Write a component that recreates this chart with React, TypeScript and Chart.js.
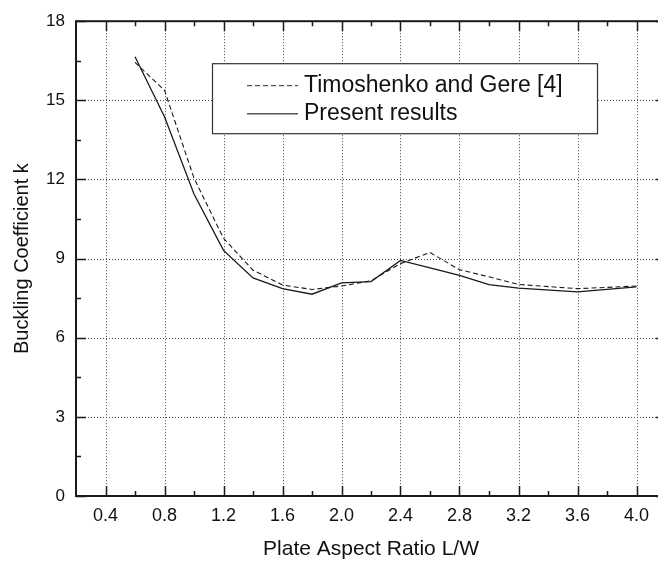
import React, { useEffect, useRef } from 'react';
import { Chart, registerables } from 'chart.js';

Chart.register(...registerables);

// ---- data ----
const X_VALUES = [0.6, 0.8, 1.0, 1.2, 1.4, 1.6, 1.8, 2.0, 2.2, 2.4, 2.6, 2.8, 3.0, 3.2, 3.6, 4.0];
const TIMOSHENKO = [16.44, 15.38, 12.05, 9.77, 8.56, 8.0, 7.83, 7.96, 8.16, 8.81, 9.23, 8.58, 8.31, 8.02, 7.86, 7.96];
const PRESENT = [16.65, 14.38, 11.45, 9.31, 8.27, 7.86, 7.65, 8.08, 8.13, 8.93, 8.65, 8.36, 8.01, 7.88, 7.74, 7.93];

const SERIES_LABELS = ['Timoshenko and Gere [4]', 'Present results'];
const X_TICKS = [0.4, 0.8, 1.2, 1.6, 2.0, 2.4, 2.8, 3.2, 3.6, 4.0];
const X_MINOR = [0.6, 1.0, 1.4, 1.8, 2.2, 2.6, 3.0, 3.4, 3.8];
const Y_TICKS = [0, 3, 6, 9, 12, 15, 18];
const Y_MINOR = [1.5, 4.5, 7.5, 10.5, 13.5, 16.5];
const X_TITLE = 'Plate Aspect Ratio L/W';
const Y_TITLE = 'Buckling Coefficient k';

const FONT = '"Liberation Sans", Arial, Helvetica, sans-serif';
const INK = '#1a1a1a';

const framePlugin = {
  id: 'frame',
  beforeDatasetsDraw(chart: any) {
    const { ctx, chartArea: a, scales } = chart;
    const xs = scales.x, ys = scales.y;
    ctx.save();
    ctx.strokeStyle = '#444';
    ctx.lineWidth = 1;
    ctx.setLineDash([1, 2]);
    for (const v of X_TICKS) {
      const px = Math.round(xs.getPixelForValue(v)) + 0.5;
      ctx.beginPath();
      ctx.moveTo(px, a.top);
      ctx.lineTo(px, a.bottom);
      ctx.stroke();
    }
    for (const v of Y_TICKS) {
      const py = Math.round(ys.getPixelForValue(v)) + 0.5;
      ctx.beginPath();
      ctx.moveTo(a.left, py);
      ctx.lineTo(a.right, py);
      ctx.stroke();
    }
    ctx.restore();
  },
  afterDatasetsDraw(chart: any) {
    const { ctx, chartArea: a, scales } = chart;
    const xs = scales.x, ys = scales.y;
    ctx.save();
    ctx.setLineDash([]);
    ctx.strokeStyle = INK;
    ctx.lineWidth = 1.5;
    const xTick = (v: number, len: number) => {
      const px = Math.round(xs.getPixelForValue(v)) + 0.5;
      ctx.beginPath();
      ctx.moveTo(px, a.bottom);
      ctx.lineTo(px, a.bottom - len);
      ctx.moveTo(px, a.top);
      ctx.lineTo(px, a.top + len);
      ctx.stroke();
    };
    const yTick = (v: number, len: number) => {
      const py = Math.round(ys.getPixelForValue(v)) + 0.5;
      ctx.beginPath();
      ctx.moveTo(a.left, py);
      ctx.lineTo(a.left + len, py);
      ctx.moveTo(a.right, py);
      ctx.lineTo(a.right - len, py);
      ctx.stroke();
    };
    X_TICKS.forEach((v) => xTick(v, 10));
    X_MINOR.forEach((v) => xTick(v, 5));
    Y_TICKS.forEach((v) => yTick(v, 10));
    Y_MINOR.forEach((v) => yTick(v, 5));
    ctx.lineWidth = 2;
    ctx.strokeRect(a.left, a.top, a.right - a.left, a.bottom - a.top);

    // legend box
    const bx = a.left + 136, by = a.top + 42, bw = 385, bh = 70;
    ctx.fillStyle = '#fff';
    ctx.fillRect(bx, by, bw, bh);
    ctx.lineWidth = 1.2;
    ctx.strokeStyle = '#333';
    ctx.strokeRect(bx + 0.5, by + 0.5, bw, bh);
    const rows = [by + 22, by + 50];
    const dashes = [[5, 3], []];
    chart.data.datasets.forEach((ds: any, i: number) => {
      ctx.beginPath();
      ctx.setLineDash(dashes[i]);
      ctx.strokeStyle = '#555';
      ctx.lineWidth = i === 0 ? 1.2 : 1.6;
      ctx.moveTo(bx + 35, rows[i] + 0.5);
      ctx.lineTo(bx + 86, rows[i] + 0.5);
      ctx.stroke();
      ctx.setLineDash([]);
      ctx.fillStyle = '#111';
      ctx.font = `23px ${FONT}`;
      ctx.textBaseline = 'middle';
      ctx.textAlign = 'left';
      ctx.fillText(ds.label, bx + 92, rows[i]);
    });
    ctx.restore();
  },
};

export default function App() {
  const ref = useRef<HTMLCanvasElement | null>(null);
  useEffect(() => {
    if (!ref.current) return;
    const chart = new Chart(ref.current, {
      type: 'line',
      data: {
        datasets: [
          {
            label: SERIES_LABELS[0],
            data: X_VALUES.map((x, i) => ({ x, y: TIMOSHENKO[i] })),
            borderColor: INK,
            borderWidth: 1.1,
            borderDash: [5, 3],
            pointRadius: 0,
            tension: 0,
            fill: false,
          },
          {
            label: SERIES_LABELS[1],
            data: X_VALUES.map((x, i) => ({ x, y: PRESENT[i] })),
            borderColor: INK,
            borderWidth: 1.3,
            pointRadius: 0,
            tension: 0,
            fill: false,
          },
        ],
      },
      options: {
        animation: false,
        responsive: false,
        maintainAspectRatio: false,
        layout: { padding: { left: 0, top: 15, right: 14, bottom: 0 } },
        plugins: { legend: { display: false }, tooltip: { enabled: false } },
        scales: {
          x: {
            type: 'linear',
            min: 0.2,
            max: 4.2,
            afterBuildTicks: (s: any) => {
              s.ticks = X_TICKS.map((v) => ({ value: v }));
            },
            afterFit: (s: any) => {
              s.height = 67;
            },
            grid: { display: false, drawTicks: false },
            border: { display: false },
            ticks: {
              padding: 9,
              color: '#111',
              font: { family: FONT, size: 18 },
              maxRotation: 0,
              autoSkip: false,
              callback: (v: any) => Number(v).toFixed(1),
            },
            title: {
              display: true,
              text: X_TITLE,
              color: '#111',
              font: { family: FONT, size: 21, lineHeight: 1.2 },
              padding: { top: 0, bottom: 1.5 },
            },
          },
          y: {
            type: 'linear',
            min: 0,
            max: 18,
            afterBuildTicks: (s: any) => {
              s.ticks = Y_TICKS.map((v) => ({ value: v }));
            },
            afterFit: (s: any) => {
              s.width = 76;
            },
            grid: { display: false, drawTicks: false },
            border: { display: false },
            ticks: {
              padding: 11,
              color: '#111',
              font: { family: FONT, size: 17 },
              autoSkip: false,
            },
            title: {
              display: true,
              text: Y_TITLE,
              color: '#111',
              font: { family: FONT, size: 20, lineHeight: 1.2 },
              padding: { top: 10, bottom: 0 },
            },
          },
        },
      },
      plugins: [framePlugin],
    });
    return () => chart.destroy();
  }, []);

  return (
    <div style={{ position: 'fixed', left: 0, top: 0, width: 658, height: 563, overflow: 'hidden', background: '#fff' }}>
      <canvas ref={ref} width={680} height={563} style={{ display: 'block', width: 680, height: 563 }} />
    </div>
  );
}
